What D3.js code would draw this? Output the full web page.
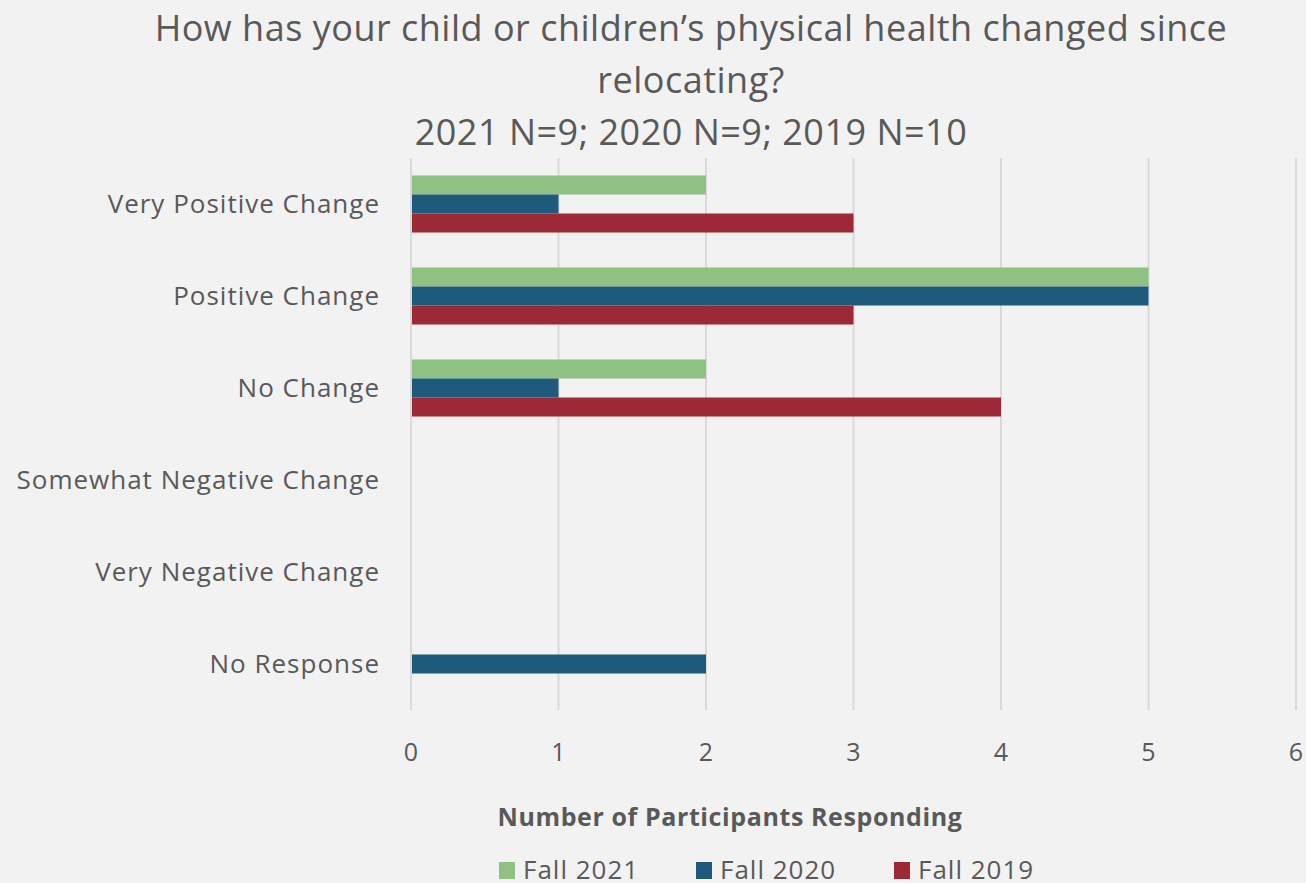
<!DOCTYPE html>
<html>
<head>
<meta charset="utf-8">
<script src="https://cdn.jsdelivr.net/npm/d3@7"></script>
<style>
  body { margin: 0; background: #f2f2f2; }
  svg { display: block; font-family: "Open Sans", Lato, sans-serif; }
</style>
</head>
<body>
<div id="chart"></div>
<script>
// values
var categories = ["Very Positive Change", "Positive Change", "No Change",
    "Somewhat Negative Change", "Very Negative Change", "No Response"];
var seriesNames = ["Fall 2021", "Fall 2020", "Fall 2019"];
var fall2021 = [2, 5, 2, 0, 0, 0];
var fall2020 = [1, 5, 1, 0, 0, 2];
var fall2019 = [3, 3, 4, 0, 0, 0];
var xTicks = [0, 1, 2, 3, 4, 5, 6];
var colors = ["#8fc183", "#1d5a7b", "#9e2936"];

var W = 1306, H = 883;
var margin = { top: 158, right: 10, bottom: 173, left: 411 },
    width = 1296 - margin.left,
    height = H - margin.top - margin.bottom;

var svg = d3.select("#chart").append("svg")
    .attr("width", W)
    .attr("height", H);

svg.append("rect").attr("width", W).attr("height", H).attr("fill", "#f2f2f2");

var textColor = "#595959";

// title
var title = svg.append("g")
    .attr("fill", textColor)
    .style("text-anchor", "middle")
    .style("font-size", "36px")
    .style("letter-spacing", "0.5px");
title.append("text").attr("x", 691).attr("y", 41).text("How has your child or children\u2019s physical health changed since");
title.append("text").attr("x", 691).attr("y", 93).text("relocating?");
title.append("text").attr("x", 691).attr("y", 145).text("2021 N=9; 2020 N=9; 2019 N=10");

var g = svg.append("g")
    .attr("transform", "translate(" + margin.left + "," + margin.top + ")");

var x = d3.scaleLinear().domain([0, 6]).range([0, width]);
var y = d3.scaleBand().domain(categories).range([0, height]).paddingInner(0.38).paddingOuter(0.19);
var ySub = d3.scaleBand().domain(seriesNames).range([0, y.bandwidth()]);

// gridlines
g.selectAll("line.grid")
    .data(xTicks)
    .enter().append("line")
    .attr("class", "grid")
    .attr("x1", function(d) { return x(d); })
    .attr("x2", function(d) { return x(d); })
    .attr("y1", 0)
    .attr("y2", height)
    .attr("stroke", "#d9d9d9")
    .attr("stroke-width", 2);

var rows = categories.map(function(c, i) {
    return { cat: c, vals: [fall2021[i], fall2020[i], fall2019[i]] };
});

var grp = g.selectAll("g.cat")
    .data(rows)
    .enter().append("g")
    .attr("class", "cat")
    .attr("transform", function(d) { return "translate(0," + y(d.cat) + ")"; });

grp.selectAll("rect")
    .data(function(d) { return d.vals.map(function(v, j) { return { s: seriesNames[j], v: v, j: j }; }); })
    .enter().append("rect")
    .filter(function(d) { return d.v > 0; })
    .attr("x", x(0) + 1)
    .attr("y", function(d) { return ySub(d.s); })
    .attr("width", function(d) { return x(d.v) - x(0) - 1; })
    .attr("height", ySub.bandwidth())
    .attr("fill", function(d) { return colors[d.j]; });

// category labels
g.selectAll("text.cat")
    .data(categories)
    .enter().append("text")
    .attr("class", "cat")
    .attr("x", -31)
    .attr("y", function(d) { return y(d) + y.bandwidth() / 2; })
    .attr("dy", "0.35em")
    .attr("fill", textColor)
    .style("text-anchor", "end")
    .style("font-size", "26px")
    .style("letter-spacing", "1px")
    .text(function(d) { return d; });

// x tick labels
g.selectAll("text.tick")
    .data(xTicks)
    .enter().append("text")
    .attr("class", "tick")
    .attr("x", function(d) { return x(d); })
    .attr("y", height + 51)
    .attr("fill", textColor)
    .style("text-anchor", "middle")
    .style("font-size", "25px")
    .text(function(d) { return d; });

svg.append("text")
    .attr("x", 730)
    .attr("y", 826)
    .attr("fill", textColor)
    .style("text-anchor", "middle")
    .style("font-size", "25px")
    .style("font-weight", "bold")
    .style("letter-spacing", "0.6px")
    .text("Number of Participants Responding");

// legend
var legX = [499, 696, 894];
var leg = svg.selectAll("g.leg")
    .data(seriesNames)
    .enter().append("g")
    .attr("class", "leg")
    .attr("transform", function(d, i) { return "translate(" + legX[i] + ",862)"; });
leg.append("rect")
    .attr("width", 16).attr("height", 17)
    .attr("y", 0)
    .attr("fill", function(d, i) { return colors[i]; });
leg.append("text")
    .attr("x", 24)
    .attr("y", 17)
    .attr("fill", textColor)
    .style("font-size", "26px")
    .style("letter-spacing", "1px")
    .text(function(d) { return d; });
</script>
</body>
</html>
